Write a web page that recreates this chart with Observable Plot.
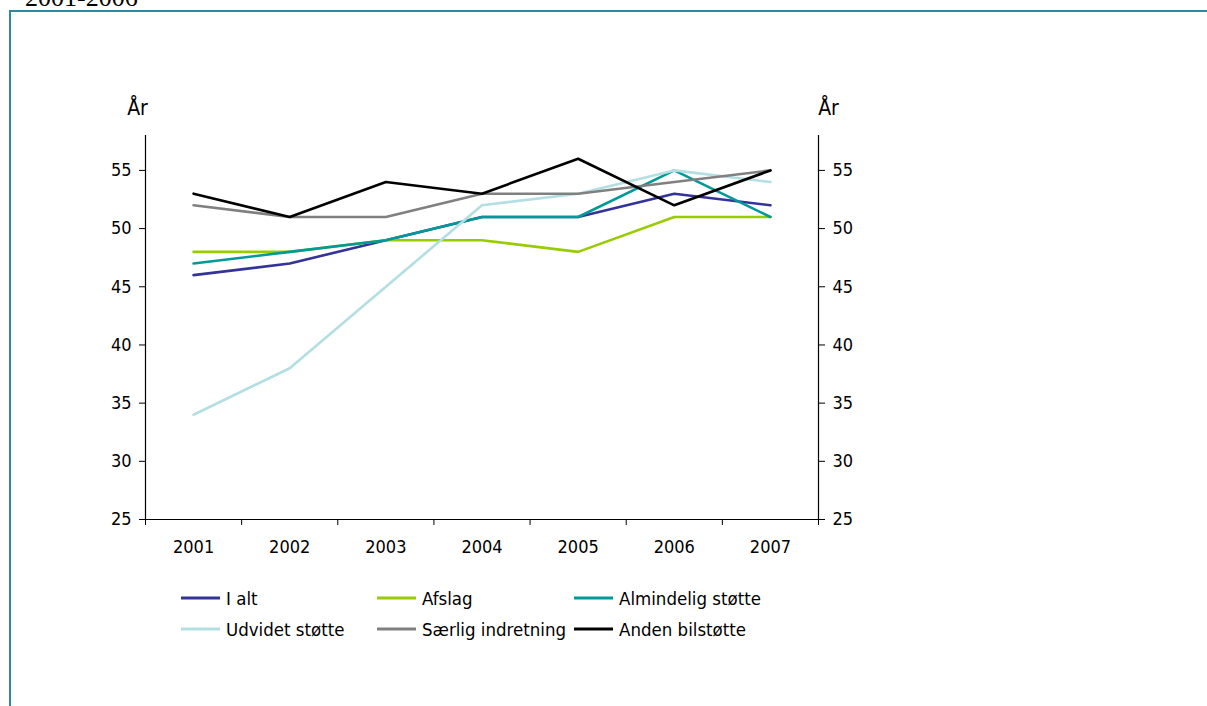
<!DOCTYPE html>
<html>
<head>
<meta charset="utf-8">
<script src="https://cdn.jsdelivr.net/npm/d3@7"></script>
<script src="https://cdn.jsdelivr.net/npm/@observablehq/plot@0.6"></script>
<style>
  html, body { margin: 0; padding: 0; background: #fff; overflow: hidden; width: 1207px; height: 706px; }
  #title { position: absolute; left: 25px; top: -17px; font-family: "Liberation Serif", "DejaVu Serif", serif; font-size: 26px; line-height: 30px; color: #000; white-space: nowrap; }
  #frame { position: absolute; left: 9px; top: 10px; width: 1300px; height: 800px; border: 2px solid #2f8a9e; box-sizing: border-box; }
  #chart { position: absolute; left: 0; top: 0; }
  #legend { position: absolute; left: 0; top: 0; font-family: "Liberation Sans Narrow", "DejaVu Sans Condensed", "Arial Narrow", sans-serif; font-size: 18.5px; color: #000; }
  .item { position: absolute; display: flex; align-items: center; white-space: nowrap; transform: translateY(-50%); }
  .sw { width: 39px; height: 3px; margin-right: 6px; }
</style>
</head>
<body>
<div id="title">2001-2006</div>
<div id="frame"></div>
<div id="chart"></div>
<div id="legend"></div>
<script>
// ---- data ----
const years = [2001, 2002, 2003, 2004, 2005, 2006, 2007];
const seriesNames = ["I alt", "Afslag", "Almindelig støtte", "Udvidet støtte", "Særlig indretning", "Anden bilstøtte"];
const seriesColors = ["#333399", "#99cc00", "#009999", "#b3dfe2", "#808080", "#000000"];
const iAlt       = [46, 47, 49, 51, 51, 53, 52];
const afslag     = [48, 48, 49, 49, 48, 51, 51];
const almindelig = [47, 48, 49, 51, 51, 55, 51];
const udvidet    = [34, 38, 45, 52, 53, 55, 54];
const saerlig    = [52, 51, 51, 53, 53, 54, 55];
const anden      = [53, 51, 54, 53, 56, 52, 55];
const yTicks = [25, 30, 35, 40, 45, 50, 55];
const yLabel = "År";

const seriesValues = [iAlt, afslag, almindelig, udvidet, saerlig, anden];
const boundaries = years.map(y => y - 0.5).concat([years[years.length - 1] + 0.5]);
const xMin = boundaries[0], xMax = boundaries[boundaries.length - 1];
const yMin = 25, yMax = 58;

const font = '"Liberation Sans Narrow", "DejaVu Sans Condensed", "Arial Narrow", sans-serif';

const lineMarks = seriesValues.map((vals, i) =>
  Plot.lineY(years.map((yr, j) => ({year: yr, value: vals[j]})), {
    x: "year", y: "value", stroke: seriesColors[i], strokeWidth: 2.6
  })
);

const chart = Plot.plot({
  width: 1207,
  height: 706,
  marginLeft: 145,
  marginRight: 389,
  marginTop: 135,
  marginBottom: 187,
  style: { fontFamily: font, fontSize: "18px", color: "#000", background: "transparent" },
  x: { domain: [xMin, xMax] },
  y: { domain: [yMin, yMax] },
  marks: [
    ...lineMarks,
    Plot.ruleX([xMin, xMax], { y1: yMin, y2: yMax, stroke: "#000", strokeWidth: 1.2 }),
    Plot.ruleY([yMin], { x1: xMin, x2: xMax, stroke: "#000", strokeWidth: 1.2 }),
    Plot.axisX({ ticks: boundaries, tickFormat: () => "", tickSize: 6, label: null, stroke: "#000" }),
    Plot.axisX({ ticks: years, tickFormat: d => String(d), tickSize: 0, tickPadding: 21, label: null }),
    Plot.axisY({ anchor: "left", ticks: yTicks, tickSize: 6, tickPadding: 8, label: null, stroke: "#000" }),
    Plot.axisY({ anchor: "right", ticks: yTicks, tickSize: 6, tickPadding: 8, label: null, stroke: "#000" }),
    Plot.text([yLabel], { frameAnchor: "top-left", dx: -8, dy: -27, text: d => d, fontSize: 21, textAnchor: "middle", lineAnchor: "middle" }),
    Plot.text([yLabel], { frameAnchor: "top-right", dx: 10, dy: -27, text: d => d, fontSize: 21, textAnchor: "middle", lineAnchor: "middle" })
  ]
});
document.getElementById("chart").appendChild(chart);

// ---- legend ----
const legend = document.getElementById("legend");
const colX = [181, 377, 574];
const rowY = [598, 629];
seriesNames.forEach((name, i) => {
  const item = document.createElement("div");
  item.className = "item";
  item.style.left = colX[i % 3] + "px";
  item.style.top = rowY[Math.floor(i / 3)] + "px";
  const sw = document.createElement("span");
  sw.className = "sw";
  sw.style.background = seriesColors[i];
  const t = document.createElement("span");
  t.textContent = name;
  item.appendChild(sw);
  item.appendChild(t);
  legend.appendChild(item);
});
</script>
</body>
</html>
